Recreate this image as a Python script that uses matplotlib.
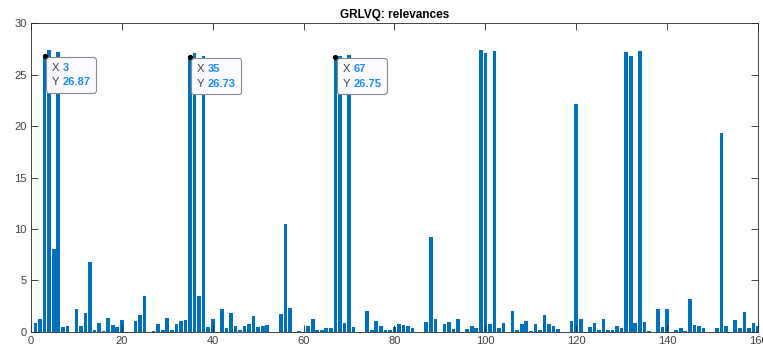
import matplotlib
matplotlib.use("Agg")
import matplotlib.pyplot as plt
import numpy as np
from matplotlib.offsetbox import TextArea, HPacker, VPacker, AnnotationBbox

plt.rcParams['font.family'] = ['Liberation Sans', 'DejaVu Sans']

# relevance per feature (features 1..160)
relevances = [
    0.8, 1.2, 26.87, 27.4, 8.05, 27.2, 0.42, 0.55, 0, 2.2,
    0.58, 1.8, 6.8, 0.15, 0.88, 0.1, 1.36, 0.65, 0.5, 1.1,
    0, 0, 1.04, 1.6, 3.5, 0, 0.1, 0.78, 0.15, 1.33,
    0.15, 0.75, 1.04, 1.1, 26.73, 27.1, 3.5, 26.8, 0.45, 1.2,
    0, 2.2, 0.36, 1.85, 0.58, 0.16, 0.55, 0.75, 1.5, 0.49,
    0.52, 0.65, 0, 0, 1.7, 10.45, 2.3, 0, 0.1, 0,
    0.55, 1.2, 0.16, 0.16, 0.39, 0.39, 26.75, 26.8, 0.8, 26.9,
    0.42, 0, 0, 2.0, 0.16, 1.05, 0.55, 0.16, 0.16, 0.42,
    0.7, 0.68, 0.55, 0.36, 0, 0, 0.9, 9.25, 1.23, 0,
    0.78, 0.9, 0.23, 1.2, 0, 0.23, 0.52, 0.32, 27.4, 27.1,
    0.78, 27.3, 0.39, 0.88, 0, 2.0, 0.16, 0.75, 1.04, 0.1,
    0.75, 0.16, 1.6, 0.75, 0.52, 0.26, 0, 0, 1.04, 22.2,
    1.23, 0, 0.42, 0.84, 0.16, 1.2, 0.13, 0.2, 0.58, 0.39,
    27.2, 26.8, 0.84, 27.3, 0.94, 0.1, 0, 2.2, 0.45, 2.2,
    0, 0.16, 0.36, 0.1, 3.2, 0.62, 0.58, 0.36, 0, 0,
    0.36, 19.3, 0.52, 0, 1.1, 0.39, 1.9, 0.39, 0.88, 0.6,
]
features = np.arange(1, len(relevances) + 1)

# features with a data tip
tip_features = [3, 35, 67]

axis_color = '#262626'
bar_color = '#0072BD'
tip_value_color = '#1a8cff'

fig = plt.figure(figsize=(7.63, 3.49), dpi=100)
ax = fig.add_axes([0.0406, 0.0496, 0.9528, 0.8831])

ax.bar(features, relevances, width=0.8, color=bar_color, edgecolor='none')

ax.set_xlim(0, 160)
ax.set_ylim(0, 30)
ax.set_xticks(np.arange(0, 161, 20))
ax.set_yticks(np.arange(0, 31, 5))
ax.tick_params(direction='in', length=5, width=0.6, colors=axis_color,
               labelsize=8, labelcolor='#404040', top=True, right=True, pad=3)
for spine in ax.spines.values():
    spine.set_color(axis_color)
    spine.set_linewidth(0.6)

ax.set_title("GRLVQ: relevances", fontsize=8.5, fontweight='bold',
             color='black', pad=4)

# data tips
for f in tip_features:
    val = relevances[f - 1]
    ax.plot(f, val, 'o', color='black', markersize=2.8, zorder=5)
    rows = []
    for key, txt in (("X", f"{f}"), ("Y", f"{val:.2f}")):
        k = TextArea(key, textprops=dict(color='#404040', fontsize=8))
        v = TextArea(txt, textprops=dict(color=tip_value_color, fontsize=8,
                                         fontweight='bold'))
        rows.append(HPacker(children=[k, v], align='baseline', pad=0, sep=2.5))
    box = VPacker(children=rows, align='left', pad=0, sep=3.5)
    ab = AnnotationBbox(box, (f, val), xybox=(5, -5),
                        xycoords='data', boxcoords='offset points',
                        box_alignment=(0, 1), pad=0.4, frameon=True,
                        bboxprops=dict(boxstyle='round,pad=0.4,rounding_size=0.2',
                                       fc='#fafaff', ec='#8a8a8a', lw=0.8))
    ab.set_zorder(6)
    ax.add_artist(ab)

fig.savefig("out.png", dpi=100, facecolor='white')
